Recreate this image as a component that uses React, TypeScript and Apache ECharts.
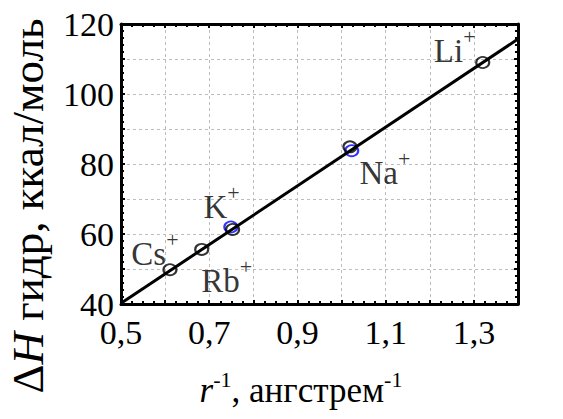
import React, { useEffect, useRef } from "react";
import * as echarts from "echarts";

// Ion data: inverse ionic radius (1/Å) vs hydration enthalpy (kcal/mol)
const ions = ["Cs", "Rb", "K", "Na", "Li"];
const invRadius = [0.611, 0.683, 0.753, 1.019, 1.32];
const hydrationHeat = [49.8, 55.6, 61.3, 84.9, 109.0];

// second (blue) set of markers, visible for K and Na
const blueIons = ["K", "Na"];
const blueInvRadius = [0.749, 1.023];
const blueHeat = [62.0, 83.8];

// fitted straight line endpoints
const fitX = [0.5, 1.4];
const fitY = [40.2, 115.7];

// axis ranges
const xRange = [0.5, 1.4];
const yRange = [40, 120];

// label placement (layout only)
const labelOffsets: Record<string, number[]> = {
  Cs: [-15, -20],
  Rb: [25, 27],
  K: [-11, -27],
  Na: [35, 22],
  Li: [-28, -16],
};

const FONT = "Liberation Serif, Times New Roman, serif";

export default function App() {
  const ref = useRef<HTMLDivElement>(null);
  useEffect(() => {
    if (!ref.current) return;
    const chart = echarts.init(ref.current, undefined, { renderer: "svg" });

    const axisLineStyle = { color: "#000", width: 3 };
    const tickStyle = { color: "#000", width: 2 };
    const splitStyle = { color: "#bdbdbd", width: 1, type: [3, 3] as any };

    const fmtX = (v: number) =>
      Math.round(v * 10) % 2 === 1 ? v.toFixed(1).replace(".", ",") : "";
    const fmtY = (v: number) => (Math.round(v / 10) % 2 === 0 ? String(v) : "");

    const baseX = {
      type: "value" as const,
      min: xRange[0],
      max: xRange[1],
      interval: 0.1,
      axisLine: { show: true, onZero: false, lineStyle: axisLineStyle },
      axisTick: { show: true, inside: true, length: 4, lineStyle: tickStyle },
      minorTick: { show: true, splitNumber: 4, length: 3, lineStyle: tickStyle },
    };
    const baseY = {
      type: "value" as const,
      min: yRange[0],
      max: yRange[1],
      interval: 10,
      axisLine: { show: true, onZero: false, lineStyle: axisLineStyle },
      axisTick: { show: true, inside: true, length: 4, lineStyle: tickStyle },
      minorTick: { show: true, splitNumber: 5, length: 3, lineStyle: tickStyle },
    };

    const richLabel = {
      n: { fontSize: 33, fontFamily: FONT, color: "#000", lineHeight: 42, verticalAlign: "bottom", textBorderWidth: 0 },
      s: { fontSize: 22, fontFamily: FONT, color: "#000", lineHeight: 22, verticalAlign: "top", textBorderWidth: 0 },
    };

    chart.setOption({
      animation: false,
      backgroundColor: "#fff",
      textStyle: { fontFamily: FONT },
      grid: { left: 121, right: 45, top: 24, bottom: 115, containLabel: false },
      xAxis: [
        {
          ...baseX,
          position: "bottom",
          splitLine: { show: true, lineStyle: splitStyle },
          axisLabel: {
            formatter: fmtX,
            fontSize: 34,
            lineHeight: 26,
            fontFamily: FONT,
            color: "#000",
            margin: 15,
            showMaxLabel: true,
            showMinLabel: true,
          },
        },
        {
          ...baseX,
          position: "top",
          splitLine: { show: false },
          axisLabel: { show: false },
        },
      ],
      yAxis: [
        {
          ...baseY,
          position: "left",
          splitLine: { show: true, lineStyle: splitStyle },
          axisLabel: {
            formatter: fmtY,
            fontSize: 34,
            lineHeight: 26,
            fontFamily: FONT,
            color: "#000",
            margin: 7,
          },
        },
        {
          ...baseY,
          position: "right",
          splitLine: { show: false },
          axisLabel: { show: false },
        },
      ],
      series: [
        {
          type: "scatter",
          name: "blue",
          xAxisIndex: 0,
          yAxisIndex: 0,
          symbol: "circle",
          symbolSize: [13, 11],
          itemStyle: { color: "rgba(0,0,0,0)", borderColor: "#0000ff", borderWidth: 2 },
          data: blueIons.map((n, i) => ({ name: n, value: [blueInvRadius[i], blueHeat[i]] })),
          z: 2,
        },
        {
          type: "scatter",
          name: "ions",
          xAxisIndex: 0,
          yAxisIndex: 0,
          symbol: "circle",
          symbolSize: [13, 11],
          itemStyle: { color: "rgba(0,0,0,0)", borderColor: "#000", borderWidth: 2 },
          data: ions.map((n, i) => ({
            name: n,
            value: [invRadius[i], hydrationHeat[i]],
            label: { offset: labelOffsets[n] },
          })),
          label: {
            show: true,
            position: "inside",
            color: "#000",
            textBorderWidth: 0,
            fontFamily: FONT,
            formatter: (p: any) => `{n|${p.name}}{s|+}`,
            rich: richLabel,
          },
          z: 3,
        },
        {
          type: "line",
          name: "fit",
          xAxisIndex: 0,
          yAxisIndex: 0,
          symbol: "none",
          lineStyle: { color: "#000", width: 3 },
          data: fitX.map((x, i) => [x, fitY[i]]),
          z: 4,
        },
      ],
      graphic: [
        {
          type: "text",
          x: 301,
          y: 388,
          style: {
            text: "{i|r}{s|-1}{n|, ангстрем}{s|-1}",
            align: "center",
            verticalAlign: "middle",
            rich: {
              i: { fontSize: 35, fontFamily: FONT, fontStyle: "italic", fill: "#000", lineHeight: 40, verticalAlign: "bottom" },
              n: { fontSize: 35, fontFamily: FONT, fill: "#000", lineHeight: 40, verticalAlign: "bottom" },
              s: { fontSize: 22, fontFamily: FONT, fill: "#000", lineHeight: 22, verticalAlign: "top" },
            },
          },
        },
        {
          type: "text",
          x: 28,
          y: 206,
          rotation: Math.PI / 2,
          style: {
            text: "{d|Δ}{h|H}{n| гидр, ккал/моль}",
            align: "center",
            verticalAlign: "middle",
            rich: {
              d: { fontSize: 45, fontFamily: FONT, fill: "#000" },
              h: { fontSize: 45, fontFamily: FONT, fontStyle: "italic", fill: "#000" },
              n: { fontSize: 45, fontFamily: FONT, fill: "#000" },
            },
          },
        },
      ],
    });
    return () => chart.dispose();
  }, []);
  return (
    <div
      ref={ref}
      style={{ position: "absolute", left: 0, top: 0, width: 563, height: 419 }}
    />
  );
}
